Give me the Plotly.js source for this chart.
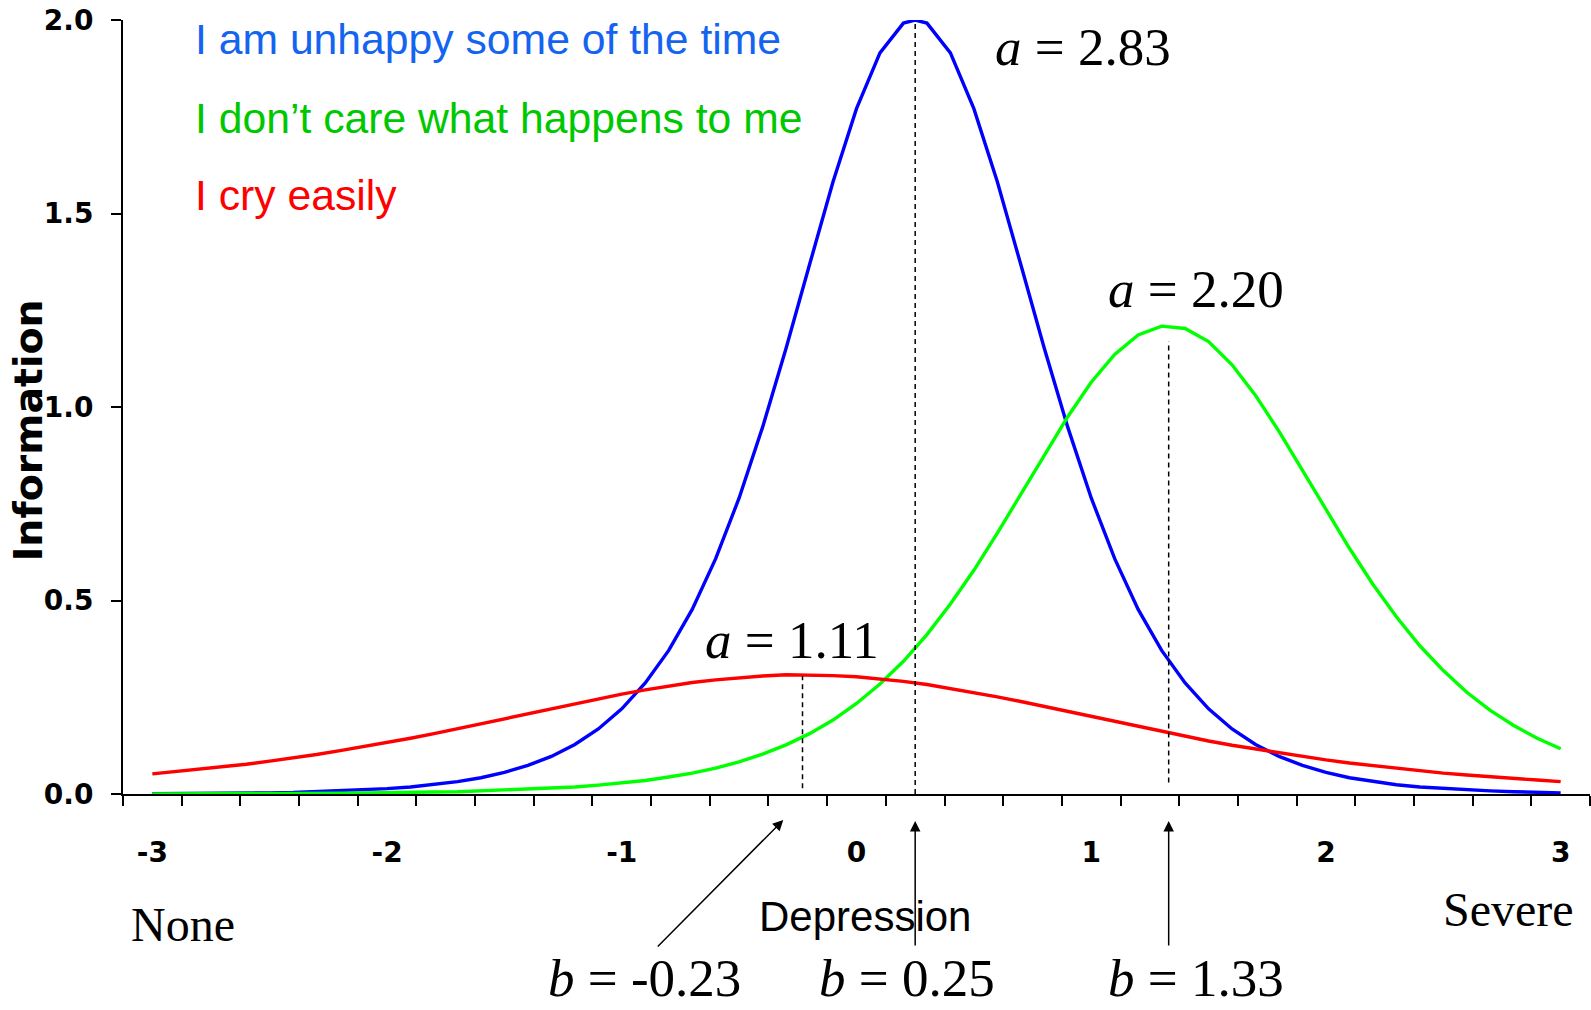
<!DOCTYPE html>
<html>
<head>
<meta charset="utf-8">
<script src="https://cdn.plot.ly/plotly-3.0.1.min.js"></script>
<style>
html, body { margin: 0; padding: 0; background: #ffffff; }
#chart { width: 1591px; height: 1010px; }
</style>
</head>
<body>
<div id="chart"></div>
<script>
// ---------------- data ----------------
const itemLabels = ["I am unhappy some of the time", "I don\u2019t care what happens to me", "I cry easily"];
const aParams = [2.83, 2.20, 1.11];
const bParams = [0.25, 1.33, -0.23];

const theta = [-3.0,-2.9,-2.8,-2.7,-2.6,-2.5,-2.4,-2.3,-2.2,-2.1,-2.0,-1.9,-1.8,-1.7,-1.6,-1.5,-1.4,-1.3,-1.2,-1.1,
  -1.0,-0.9,-0.8,-0.7,-0.6,-0.5,-0.4,-0.3,-0.2,-0.1,0.0,0.1,0.2,0.3,0.4,0.5,0.6,0.7,0.8,0.9,
  1.0,1.1,1.2,1.3,1.4,1.5,1.6,1.7,1.8,1.9,2.0,2.1,2.2,2.3,2.4,2.5,2.6,2.7,2.8,2.9,3.0];

const thetaUnhappy = [-3.0,-2.9,-2.8,-2.7,-2.6,-2.5,-2.4,-2.3,-2.2,-2.1,-2.0,-1.9,-1.8,-1.7,-1.6,-1.5,-1.4,-1.3,-1.2,-1.1,
  -1.0,-0.9,-0.8,-0.7,-0.6,-0.5,-0.4,-0.3,-0.2,-0.1,0.0,0.1,0.2,0.25,0.3,0.4,0.5,0.6,0.7,0.8,0.9,
  1.0,1.1,1.2,1.3,1.4,1.5,1.6,1.7,1.8,1.9,2.0,2.1,2.2,2.3,2.4,2.5,2.6,2.7,2.8,2.9,3.0];

const infoUnhappy = [0.001,0.001,0.001,0.002,0.003,0.003,0.004,0.006,0.008,0.010,0.014,0.018,0.024,0.032,0.042,0.056,0.074,0.097,0.128,0.168,
  0.220,0.287,0.371,0.477,0.608,0.765,0.948,1.152,1.368,1.582,1.771,1.915,1.992,2.000,1.992,1.915,1.771,1.582,1.368,1.152,0.948,
  0.765,0.608,0.477,0.371,0.287,0.220,0.168,0.128,0.097,0.074,0.056,0.042,0.032,0.024,0.018,0.014,0.010,0.008,0.006,0.004,0.003];

const infoDontCare = [0.000,0.000,0.001,0.001,0.001,0.001,0.001,0.002,0.002,0.003,0.003,0.004,0.005,0.006,0.008,0.010,0.012,0.015,0.018,0.023,
  0.028,0.035,0.044,0.054,0.067,0.083,0.103,0.127,0.156,0.191,0.234,0.284,0.343,0.412,0.491,0.578,0.674,0.775,0.877,0.975,
  1.064,1.136,1.186,1.209,1.203,1.169,1.109,1.030,0.937,0.836,0.734,0.635,0.542,0.458,0.383,0.319,0.263,0.216,0.177,0.144,0.117];

const infoCry = [0.052,0.058,0.064,0.070,0.077,0.085,0.093,0.102,0.112,0.122,0.133,0.144,0.156,0.169,0.181,0.194,0.208,0.221,0.234,0.246,
  0.258,0.269,0.279,0.288,0.295,0.301,0.305,0.308,0.308,0.306,0.303,0.298,0.291,0.283,0.273,0.263,0.251,0.239,0.226,0.213,
  0.200,0.187,0.174,0.161,0.149,0.137,0.126,0.116,0.106,0.097,0.088,0.080,0.073,0.066,0.060,0.054,0.049,0.044,0.040,0.036,0.032];

// top and bottom of each dashed guide line drawn at b
const guideTop = [2.0, 1.17, 0.305];
const guideBottom = [0.0, 0.03, 0.015];

const xTickVals = [-3, -2, -1, 0, 1, 2, 3];
const xTickText = ["-3", "-2", "-1", "0", "1", "2", "3"];
const yTickVals = [0, 0.5, 1.0, 1.5, 2.0];
const yTickText = ["0.0", "0.5", "1.0", "1.5", "2.0"];
const xAxisTitle = "Depression";
const yAxisTitle = "Information";
const scaleEnds = ["None", "Severe"];

// ---------------- styles ----------------
const lineColors = ["#0000FF", "#00FF00", "#FF0000"];
const textColors = ["#1464F0", "#00C800", "#FF0000"];
const SERIF = "'Liberation Serif', 'Times New Roman', serif";
const SANS = "'Liberation Sans', Arial, sans-serif";
const BOLD = "'DejaVu Sans', Verdana, sans-serif";

const xs = [thetaUnhappy, theta, theta];
const ys = [infoUnhappy, infoDontCare, infoCry];

const traces = itemLabels.map((name, i) => ({
  type: "scatter",
  mode: "lines",
  name: name,
  x: xs[i],
  y: ys[i],
  line: { color: lineColors[i], width: 3.4 },
  cliponaxis: false,
  hoverinfo: "x+y+name"
}));

// dashed guides at each b
const shapes = bParams.map((b, i) => ({
  type: "line", xref: "x", yref: "y",
  x0: b, x1: b, y0: guideBottom[i], y1: guideTop[i],
  line: { color: "#000000", width: 1.5, dash: "5px,4px" }
}));

const annotations = [];

// legend-like coloured item texts
const legendY = [1.950, 1.7475, 1.548];
itemLabels.forEach((t, i) => {
  annotations.push({
    xref: "x", yref: "y", x: -2.828, y: legendY[i],
    xanchor: "left", yanchor: "middle", showarrow: false,
    text: t, font: { family: SANS, size: 42.7, color: textColors[i] }
  });
});

// a-parameter labels
const aPos = [[0.965, 1.93], [1.446, 1.305], [-0.273, 0.398]];
aParams.forEach((a, i) => {
  annotations.push({
    xref: "x", yref: "y", x: aPos[i][0], y: aPos[i][1],
    xanchor: "center", yanchor: "middle", showarrow: false,
    text: "<i>a</i> = " + a.toFixed(2),
    font: { family: SERIF, size: 53, color: "#000000" }
  });
});

// b-parameter labels and arrows
const bLabelX = [0.215, 1.446, -0.904];
bParams.forEach((b, i) => {
  annotations.push({
    xref: "x", yref: "paper", x: bLabelX[i], y: -0.2773,
    xanchor: "center", yanchor: "bottom", showarrow: false,
    text: "<i>b</i> = " + b.toFixed(2),
    font: { family: SERIF, size: 53, color: "#000000" }
  });
});
// vertical arrows for b = 0.25 and b = 1.33, diagonal for b = -0.23
annotations.push({ xref: "x", yref: "paper", x: bParams[0], y: -0.0349, ax: 0, ay: 126,
  text: "", showarrow: true, arrowhead: 2, arrowsize: 1.4, arrowwidth: 1.5, arrowcolor: "#000000", standoff: 0 });
annotations.push({ xref: "x", yref: "paper", x: bParams[1], y: -0.0349, ax: 0, ay: 126,
  text: "", showarrow: true, arrowhead: 2, arrowsize: 1.4, arrowwidth: 1.5, arrowcolor: "#000000", standoff: 0 });
annotations.push({ xref: "x", yref: "paper", x: -0.312, y: -0.0336, ax: -127, ay: 128,
  text: "", showarrow: true, arrowhead: 2, arrowsize: 1.4, arrowwidth: 1.5, arrowcolor: "#000000", standoff: 0 });

// scale ends and axis titles
annotations.push({ xref: "x", yref: "paper", x: -2.871, y: -0.1685, showarrow: false,
  xanchor: "center", yanchor: "middle", text: scaleEnds[0], font: { family: SERIF, size: 48, color: "#000000" } });
annotations.push({ xref: "x", yref: "paper", x: 2.776, y: -0.1486, showarrow: false,
  xanchor: "center", yanchor: "middle", text: scaleEnds[1], font: { family: SERIF, size: 48, color: "#000000" } });
annotations.push({ xref: "x", yref: "paper", x: 0.036, y: -0.1589, showarrow: false,
  xanchor: "center", yanchor: "middle", text: xAxisTitle, font: { family: SANS, size: 42, color: "#000000" } });
annotations.push({ xref: "paper", yref: "paper", x: -0.0645, y: 0.4703, showarrow: false, textangle: -90,
  xanchor: "center", yanchor: "middle", text: yAxisTitle,
  font: { family: BOLD, size: 39.5, color: "#000000", weight: "bold" } });

const layout = {
  width: 1591, height: 1010,
  margin: { l: 123, r: 1, t: 20, b: 216, pad: 0 },
  paper_bgcolor: "#ffffff", plot_bgcolor: "#ffffff",
  showlegend: false,
  xaxis: {
    range: [-3.125, 3.125], autorange: false,
    showline: true, linecolor: "#000000", linewidth: 2,
    showgrid: false, zeroline: false,
    tickmode: "array", tickvals: xTickVals, ticktext: xTickText,
    ticks: "", ticklabelstandoff: 32,
    tickfont: { family: BOLD, size: 28, color: "#000000", weight: "bold" },
    minor: { tick0: -3.125, dtick: 0.25, ticks: "outside", ticklen: 10, tickwidth: 1.5, tickcolor: "#000000", showgrid: false },
    fixedrange: true, automargin: false
  },
  yaxis: {
    range: [0, 2], autorange: false,
    showline: true, linecolor: "#000000", linewidth: 2,
    showgrid: false, zeroline: false,
    tickmode: "array", tickvals: yTickVals, ticktext: yTickText,
    ticks: "outside", ticklen: 10, tickwidth: 1.5, tickcolor: "#000000",
    ticklabelstandoff: 12,
    tickfont: { family: BOLD, size: 28, color: "#000000", weight: "bold" },
    fixedrange: true, automargin: false
  },
  shapes: shapes,
  annotations: annotations
};

Plotly.newPlot("chart", traces, layout, { displayModeBar: false, responsive: false, staticPlot: false });
</script>
</body>
</html>
